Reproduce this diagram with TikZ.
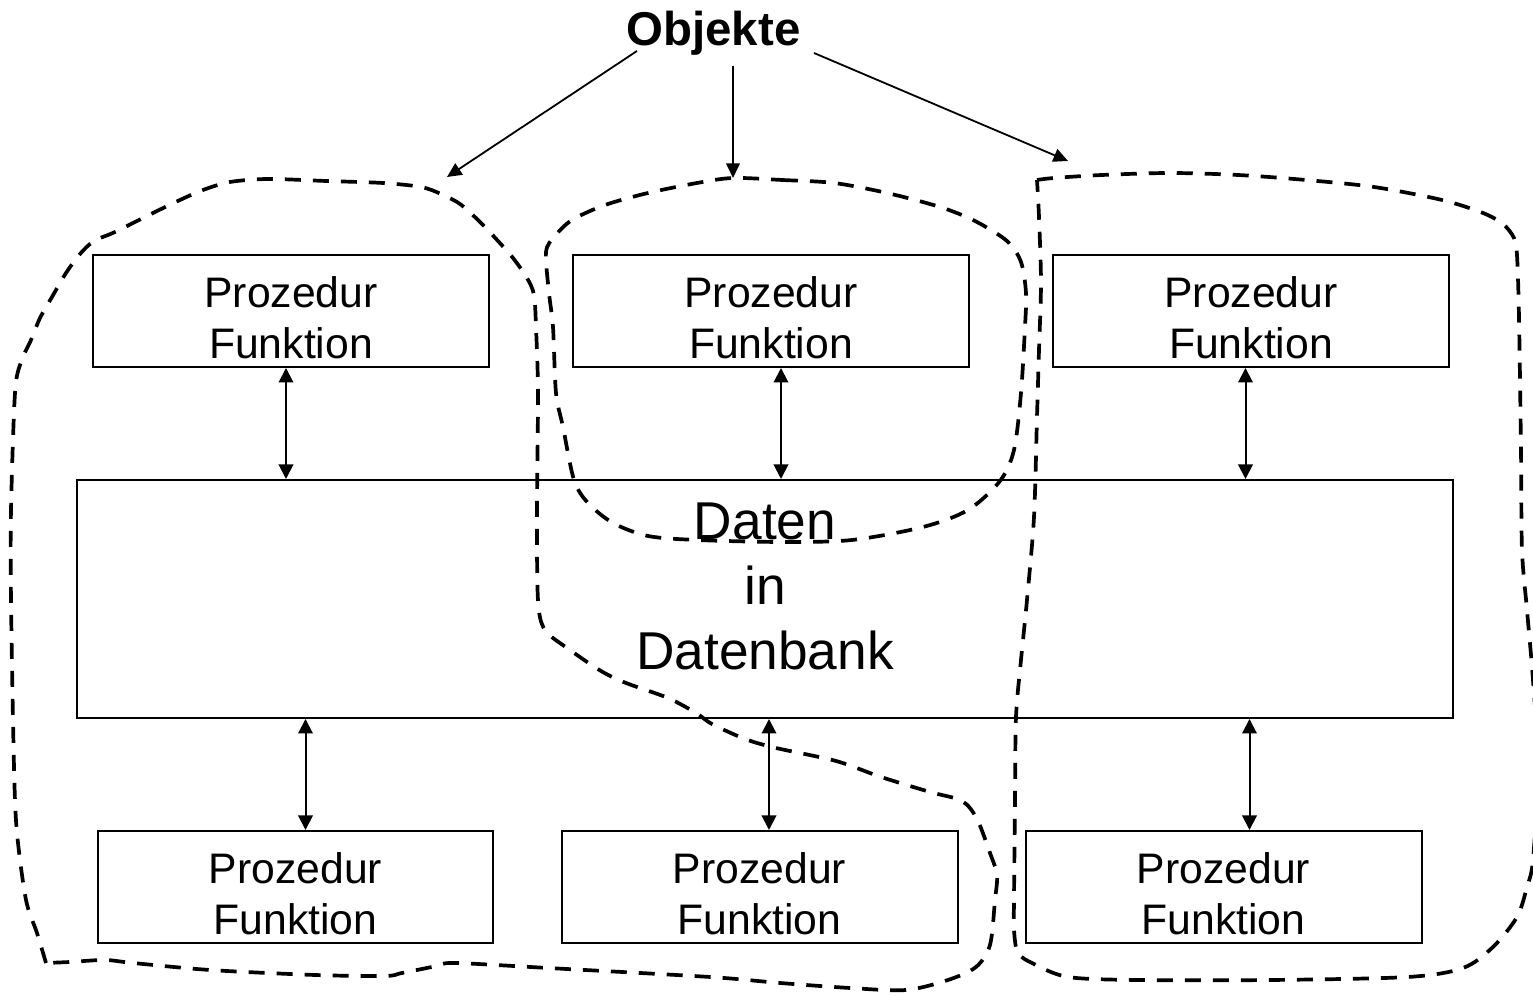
\documentclass[tikz,border=0pt]{standalone}
\usepackage{fontspec}
\setmainfont{Liberation Sans}
\usetikzlibrary{arrows.meta}

\begin{document}
\begin{tikzpicture}[x=0.1mm,y=-0.1mm,
  box/.style={draw, line width=0.2mm, inner sep=0pt},
  smallbox/.style={box, minimum width=39.6mm, minimum height=11.2mm},
  boxtext/.style={align=center, inner sep=0pt, font=\fontsize{12.15pt}{14.5pt}\selectfont},
  bigtext/.style={align=center, inner sep=0pt, font=\fontsize{15.15pt}{18.4pt}\selectfont},
  link/.style={line width=0.2mm,
    {Triangle[length=1.45mm,width=1.45mm]}-{Triangle[length=1.45mm,width=1.45mm]}},
  pointer/.style={line width=0.18mm, -{Triangle[length=1.45mm,width=1.35mm]}},
  region/.style={line width=0.37mm, dash pattern=on 1.6mm off 1.2mm, line join=round}
]
\useasboundingbox (0,0) rectangle (1533,996);
\begin{scope}
\clip (0,0) rectangle (1533,996);

% title
\node[anchor=base, inner sep=0pt, font=\fontsize{13.5pt}{16pt}\selectfont\bfseries] (obj) at (713.5,46) {Objekte};

% procedure boxes, top row
\node[smallbox] (p1) at (291,311) {};
\node[smallbox] (p2) at (771,311) {};
\node[smallbox] (p3) at (1251,311) {};
\node[boxtext] (p1t) at (291,317.5) {Prozedur\\Funktion};
\node[boxtext] (p2t) at (771,317.5) {Prozedur\\Funktion};
\node[boxtext] (p3t) at (1251,317.5) {Prozedur\\Funktion};

% database box
\node[box, minimum width=137.6mm, minimum height=23.8mm] (db) at (765,599) {};
\node[bigtext] (dbt) at (765,586.5) {Daten\\in\\Datenbank};

% procedure boxes, bottom row
\node[smallbox] (q1) at (295.5,887) {};
\node[smallbox] (q2) at (759.5,887) {};
\node[smallbox] (q3) at (1223.5,887) {};
\node[boxtext] (q1t) at (295.5,893.5) {Prozedur\\Funktion};
\node[boxtext] (q2t) at (759.5,893.5) {Prozedur\\Funktion};
\node[boxtext] (q3t) at (1223.5,893.5) {Prozedur\\Funktion};

% columns of the access arrows
\coordinate (a1) at (286,0);
\coordinate (a2) at (781,0);
\coordinate (a3) at (1245.5,0);
\coordinate (b1) at (305.5,0);
\coordinate (b2) at (769,0);
\coordinate (b3) at (1249.5,0);

\draw[link] (p1.south -| a1) -- (db.north -| a1);
\draw[link] (p2.south -| a2) -- (db.north -| a2);
\draw[link] (p3.south -| a3) -- (db.north -| a3);
\draw[link] (db.south -| b1) -- (q1.north -| b1);
\draw[link] (db.south -| b2) -- (q2.north -| b2);
\draw[link] (db.south -| b3) -- (q3.north -| b3);

% pointers from the title to the three objects
\coordinate (s1) at (637,51);
\coordinate (s2) at (733,66);
\coordinate (s3) at (814,53);
\coordinate (e1) at (447,177);
\coordinate (e2) at (733,178);
\coordinate (e3) at (1068,161);
\draw[pointer] (s1) -- (e1);
\draw[pointer] (s2) -- (e2);
\draw[pointer] (s3) -- (e3);

% object boundaries
\draw[region] plot[smooth, tension=0.5] coordinates {
  (46,963) (37,933) (26,900) (17,833) (14,767) (11,600) (11,510) (15,393)
  (21,362) (31,340) (40,318) (52,297) (66,273) (80,254) (94,241) (115,232)
  (153,213) (180,200) (203,190) (230,182) (268,179) (326,181) (383,183)
  (421,187) (441,194) (460,204) (479,221) (498,241) (513,258) (527,278)
  (534,295) (536,327) (538,393) (537,510) (538,600) (545,630) (570,650)
  (601,671) (626,683) (668,698) (696,713) (712,724) (745,739) (776,748)
  (836,761) (881,777) (930,792) (962,801) (977,819) (990,853) (997,875)
  (995,900) (990,945) (976,967) (948,980) (906,990) (850,988) (780,983)
  (710,977) (548,968) (455,963) (437,966) (402,973) (385,976) (315,975)
  (210,970) (133,963) (105,960) (70,962) (46,963)} -- cycle;

\draw[region] plot[smooth cycle, tension=0.5] coordinates {
  (733,178) (782,180) (834,183) (887,193) (940,207) (975,221) (1007,241)
  (1021,262) (1026,293) (1025,327) (1021,393) (1014,450) (1000,481)
  (968,510) (923,527) (852,540) (782,542) (697,540) (648,536) (613,523)
  (588,503) (574,480) (563,427) (556,393) (553,327) (549,293) (546,252)
  (555,236) (572,220) (605,205) (648,193) (697,183)};

\draw[region] plot[smooth, tension=0.5] coordinates {
  (1037,180) (1054,178) (1102,175) (1170,173) (1238,175) (1306,180)
  (1374,187) (1442,200) (1483,213) (1503,224) (1514,238) (1517,255)
  (1519,317) (1521,450) (1522,550) (1527,610) (1533,680) (1538,767)
  (1533,860) (1527,887) (1517,917) (1493,947) (1463,968) (1408,977)
  (1272,980) (1136,980) (1068,977) (1034,964) (1018,953) (1014,930)
  (1014,900) (1015,800) (1016,717) (1021,660) (1027,600) (1034,517)
  (1037,417) (1039,350) (1041,283) (1039,217) (1037,180)} -- cycle;
\end{scope}
\end{tikzpicture}
\end{document}
